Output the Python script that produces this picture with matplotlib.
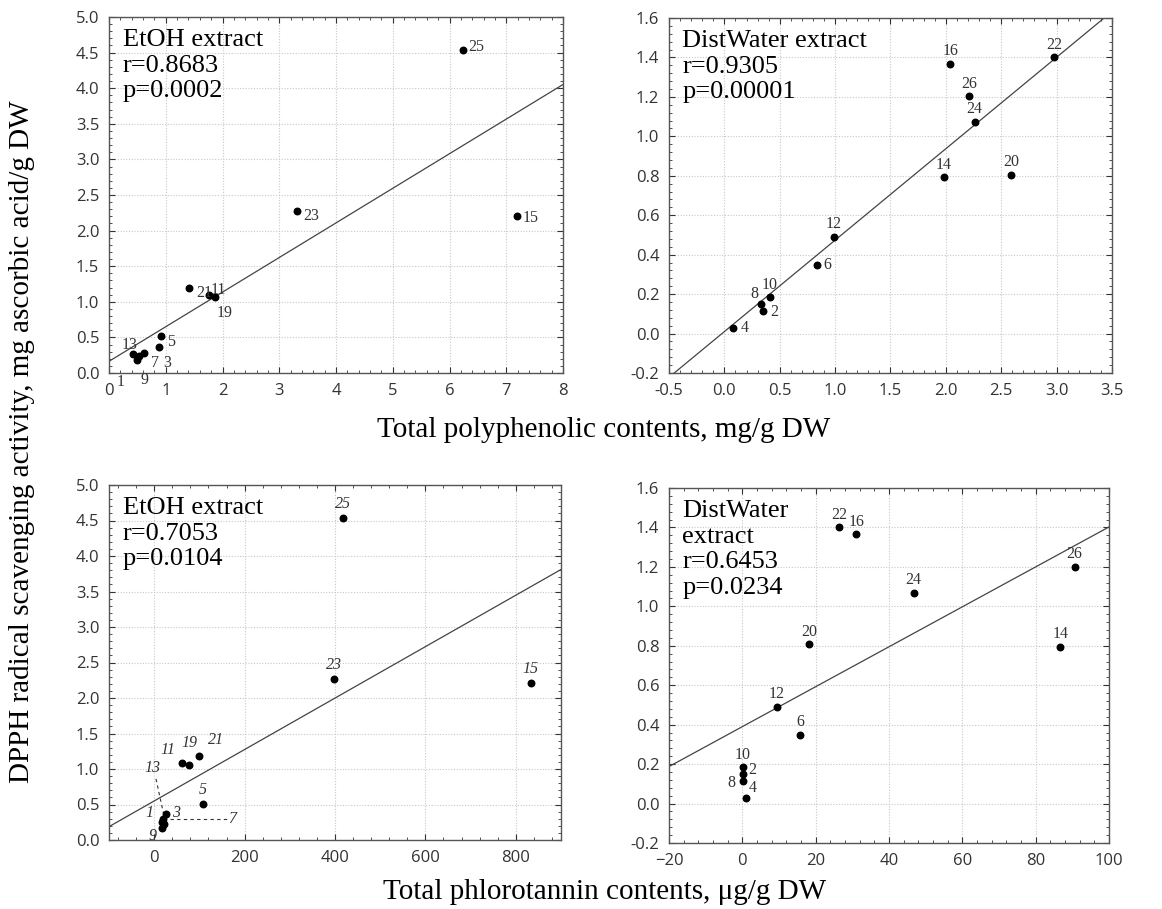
import numpy as np
import matplotlib.pyplot as plt
from matplotlib.ticker import AutoMinorLocator, MultipleLocator

# ── Data ──────────────────────────────────────────────────────────────────
# EtOH extract vs total polyphenols (mg/g DW)
etoh_pp_id = ["25", "23", "15", "21", "11", "19", "5", "3", "13", "1", "7", "9"]
etoh_pp_x  = [6.23, 3.31, 7.19, 1.41, 1.76, 1.87, 0.92, 0.88, 0.42, 0.53, 0.61, 0.50]
etoh_pp_y  = [4.54, 2.27, 2.20, 1.20, 1.09, 1.07, 0.52, 0.36, 0.26, 0.24, 0.28, 0.18]
etoh_pp_fit = (0.164, 0.486)   # intercept, slope

# DistWater extract vs total polyphenols (mg/g DW)
wat_pp_id = ["22", "16", "26", "24", "14", "20", "12", "6", "10", "8", "2", "4"]
wat_pp_x  = [2.98, 2.04, 2.21, 2.26, 1.98, 2.59, 0.99, 0.84, 0.41, 0.33, 0.35, 0.08]
wat_pp_y  = [1.40, 1.367, 1.204, 1.073, 0.792, 0.806, 0.49, 0.35, 0.184, 0.15, 0.115, 0.027]
wat_pp_fit = (0.01, 0.4637)

# EtOH extract vs total phlorotannins (ug/g DW)
etoh_ph_id = ["25", "23", "15", "11", "19", "21", "5", "3", "13", "1", "7", "9"]
etoh_ph_x  = [418, 398, 833, 62, 78, 99, 108, 27, 20, 18, 21, 18]
etoh_ph_y  = [4.53, 2.27, 2.21, 1.09, 1.06, 1.19, 0.51, 0.36, 0.29, 0.26, 0.23, 0.17]
etoh_ph_fit = (0.55, 0.003622)

# DistWater extract vs total phlorotannins (ug/g DW)
wat_ph_id = ["22", "16", "26", "24", "20", "14", "12", "6", "10", "2", "8", "4"]
wat_ph_x  = [26.4, 31.1, 90.6, 46.7, 18.2, 86.7, 9.4, 15.8, 0.1, 0.1, 0.1, 0.9]
wat_ph_y  = [1.40, 1.366, 1.20, 1.069, 0.808, 0.795, 0.49, 0.35, 0.185, 0.151, 0.113, 0.029]
wat_ph_fit = (0.39, 0.010125)

SERIF = ["Liberation Serif", "DejaVu Serif"]
TICKF = "Open Sans"

fig = plt.figure(figsize=(11.62, 9.09), dpi=100)
W, H = 1162, 909

def make_ax(l, t, r, b):
    return fig.add_axes([l / W, 1 - b / H, (r - l) / W, (b - t) / H])

def style(ax, xlim, ylim, xmaj, ymaj):
    ax.set_xlim(*xlim)
    ax.set_ylim(*ylim)
    ax.xaxis.set_major_locator(MultipleLocator(xmaj))
    ax.yaxis.set_major_locator(MultipleLocator(ymaj))
    ax.xaxis.set_minor_locator(AutoMinorLocator(5))
    ax.yaxis.set_minor_locator(AutoMinorLocator(5))
    ax.tick_params(which="both", direction="in", top=True, right=True,
                   labelsize=12, colors="#333333", pad=7)
    ax.tick_params(which="major", length=4)
    ax.tick_params(which="minor", length=2.5)
    ax.grid(True, which="major", color="#c8c8c8", linestyle=(0, (1, 1.5)), linewidth=0.8)
    for s in ax.spines.values():
        s.set_color("#555555")
        s.set_linewidth(1.0)

def fit_line(ax, fit, xlim):
    xs = np.array(xlim, dtype=float)
    ax.plot(xs, fit[0] + fit[1] * xs, color="#444444", lw=0.9, zorder=2)

def dots(ax, x, y):
    ax.scatter(x, y, s=22, color="black", zorder=3)

def label(ax, ids, x, y, offs, italic=False, default=(5, -3), skip=()):
    for i, xx, yy in zip(ids, x, y):
        if i in skip:
            continue
        dx, dy = offs.get(i, default)
        ax.annotate(i, (xx, yy), xytext=(dx, dy), textcoords="offset points",
                    fontsize=11.5, family=SERIF, color="#333333",
                    style="italic" if italic else "normal",
                    ha="center", va="center")

def info(ax, txt):
    ax.text(0.03, 0.965, txt, transform=ax.transAxes, ha="left", va="top",
            fontsize=19, family=SERIF, linespacing=1.2, color="black")

# ── Top-left ──
ax1 = make_ax(109, 17, 563, 373)
style(ax1, (0, 8), (0, 5), 1, 0.5)
ax1.yaxis.set_major_formatter(plt.FormatStrFormatter("%.1f"))
fit_line(ax1, etoh_pp_fit, (0, 8))
dots(ax1, etoh_pp_x, etoh_pp_y)
label(ax1, etoh_pp_id, etoh_pp_x, etoh_pp_y,
      {"25": (10, 2), "23": (10, -3), "15": (10, -1), "21": (11, -4),
       "11": (7, 4), "19": (7, -12), "5": (7, -4), "3": (6, -11),
       "13": (-2, 7), "1": (-13, -19), "7": (8, -7), "9": (5, -14)})
info(ax1, "EtOH extract\nr=0.8683\np=0.0002")

# ── Top-right ──
ax2 = make_ax(669, 18, 1112, 373)
style(ax2, (-0.5, 3.5), (-0.2, 1.6), 0.5, 0.2)
ax2.yaxis.set_major_formatter(plt.FormatStrFormatter("%.1f"))
ax2.xaxis.set_major_formatter(plt.FormatStrFormatter("%.1f"))
fit_line(ax2, wat_pp_fit, (-0.5, 3.5))
dots(ax2, wat_pp_x, wat_pp_y)
label(ax2, wat_pp_id, wat_pp_x, wat_pp_y,
      {"6": (7, 0), "2": (8, -1), "4": (8, 0), "8": (-5, 7)},
      default=(0, 9))
info(ax2, "DistWater extract\nr=0.9305\np=0.00001")

# ── Bottom-left ──
ax3 = make_ax(109, 485, 561, 840)
style(ax3, (-100, 900), (0, 5), 200, 0.5)
ax3.yaxis.set_major_formatter(plt.FormatStrFormatter("%.1f"))
fit_line(ax3, etoh_ph_fit, (-100, 900))
dots(ax3, etoh_ph_x, etoh_ph_y)
label(ax3, etoh_ph_id, etoh_ph_x, etoh_ph_y,
      {"3": (7, 1), "5": (0, 10), "1": (-9, 6), "9": (-7, -6),
       "11": (-10, 9), "19": (0, 16), "21": (12, 11)},
      italic=True, default=(0, 10), skip=("13", "7"))
# leader lines for the crowded cluster
ax3.plot([4, 22], [0.86, 0.33], ls=(0, (3, 3)), color="#333333", lw=0.8, zorder=2)
ax3.plot([35, 160], [0.30, 0.30], ls=(0, (3, 3)), color="#333333", lw=0.8, zorder=2)
ax3.text(-5, 1.02, "13", family=SERIF, style="italic", fontsize=11.5, color="#333333",
         ha="center", va="center")
ax3.text(172, 0.30, "7", family=SERIF, style="italic", fontsize=11.5, color="#333333",
         ha="center", va="center")
info(ax3, "EtOH extract\nr=0.7053\np=0.0104")

# ── Bottom-right ──
ax4 = make_ax(669, 488, 1109, 843)
style(ax4, (-20, 100), (-0.2, 1.6), 20, 0.2)
ax4.yaxis.set_major_formatter(plt.FormatStrFormatter("%.1f"))
fit_line(ax4, wat_ph_fit, (-20, 100))
dots(ax4, wat_ph_x, wat_ph_y)
label(ax4, wat_ph_id, wat_ph_x, wat_ph_y,
      {"2": (7, 3), "8": (-8, -1), "4": (5, 7)},
      default=(0, 9))
info(ax4, "DistWater\nextract\nr=0.6453\np=0.0234")

for ax in (ax1, ax2, ax3, ax4):
    for lab in ax.get_xticklabels() + ax.get_yticklabels():
        lab.set_fontfamily(TICKF)

fig.text(604 / W, 1 - 430 / H, "Total polyphenolic contents, mg/g DW",
         family=SERIF, fontsize=21, ha="center", va="center")
fig.text(605 / W, 1 - 892 / H, "Total phlorotannin contents, \u03bcg/g DW",
         family=SERIF, fontsize=21, ha="center", va="center")
fig.text(22 / W, 1 - 442 / H, "DPPH radical scavenging activity, mg ascorbic acid/g DW",
         family=SERIF, fontsize=21, ha="center", va="center", rotation=90)

fig.savefig("out.png", dpi=100)
